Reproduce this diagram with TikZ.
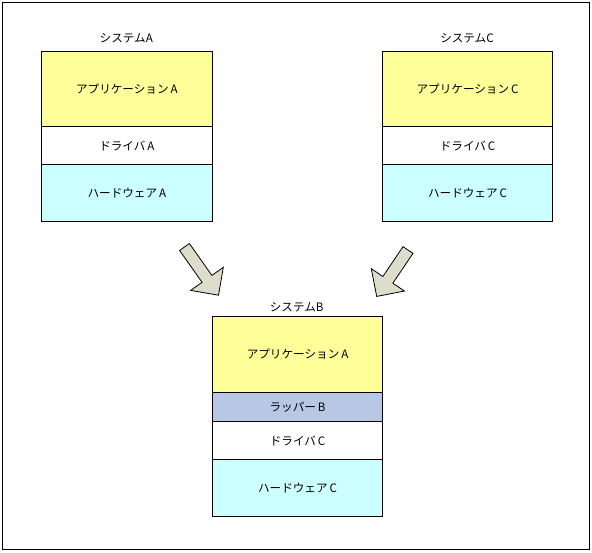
\documentclass[tikz,border=0pt]{standalone}
\usepackage{fontspec}
\newfontfamily\jp{Noto Sans CJK JP}
\definecolor{appyellow}{HTML}{FFFF99}
\definecolor{hwcyan}{HTML}{CCFFFF}
\definecolor{wrapblue}{HTML}{B8C8E4}
\definecolor{arrowfill}{HTML}{DCDECB}
\begin{document}
\begin{tikzpicture}[x=1pt,y=-1pt,
  layer/.style={draw=black, line width=1pt, minimum width=170.7pt, inner sep=0pt, anchor=north west, font=\jp\fontsize{11.6}{13}\selectfont},
  syslabel/.style={inner sep=0pt, font=\jp\fontsize{11.6}{13}\selectfont},
  blockarrow/.style={draw=black, line width=0.8pt, fill=arrowfill, line join=miter}]
\useasboundingbox (0,0) rectangle (592,552);
\fill[white] (0,0) rectangle (592,552);
\draw[line width=1pt] (2.5,2.5) rectangle (589.5,549.5);

% System A
\node[syslabel] (labA) at (126.3,38.5) {システムA};
\node[layer, fill=appyellow, minimum height=75.6pt] (appA) at (41,50.7) {アプリケーション\,A};
\node[layer, fill=white, minimum height=38pt] (drvA) at (41,126.3) {ドライバ\,A};
\node[layer, fill=hwcyan, minimum height=57pt] (hwA) at (41,164.3) {ハードウェア\,A};

% System C
\node[syslabel] (labC) at (467,38.5) {システムC};
\node[layer, fill=appyellow, minimum height=75.6pt] (appC) at (381.7,50.7) {アプリケーション\,C};
\node[layer, fill=white, minimum height=38pt] (drvC) at (381.7,126.3) {ドライバ\,C};
\node[layer, fill=hwcyan, minimum height=57pt] (hwC) at (381.7,164.3) {ハードウェア\,C};

% System B
\node[syslabel] (labB) at (296.7,307.5) {システムB};
\node[layer, fill=appyellow, minimum height=76pt] (appB) at (211.7,315.7) {アプリケーション\,A};
\node[layer, fill=wrapblue, minimum height=29.6pt] (wrapB) at (211.7,391.7) {ラッパー\,B};
\node[layer, fill=white, minimum height=38pt] (drvB) at (211.7,421.3) {ドライバ\,C};
\node[layer, fill=hwcyan, minimum height=56.4pt] (hwB) at (211.7,459.3) {ハードウェア\,C};

% Block arrows
\begin{scope}[shift={(184.5,247)}, rotate=-54.8]
  \draw[blockarrow] (0,6) -- (39,6) -- (39,20) -- (59,0) -- (39,-20) -- (39,-6) -- (0,-6) -- cycle;
\end{scope}
\begin{scope}[shift={(408,250)}, rotate=-124]
  \draw[blockarrow] (0,6) -- (36,6) -- (36,20) -- (56,0) -- (36,-20) -- (36,-6) -- (0,-6) -- cycle;
\end{scope}
\end{tikzpicture}
\end{document}
